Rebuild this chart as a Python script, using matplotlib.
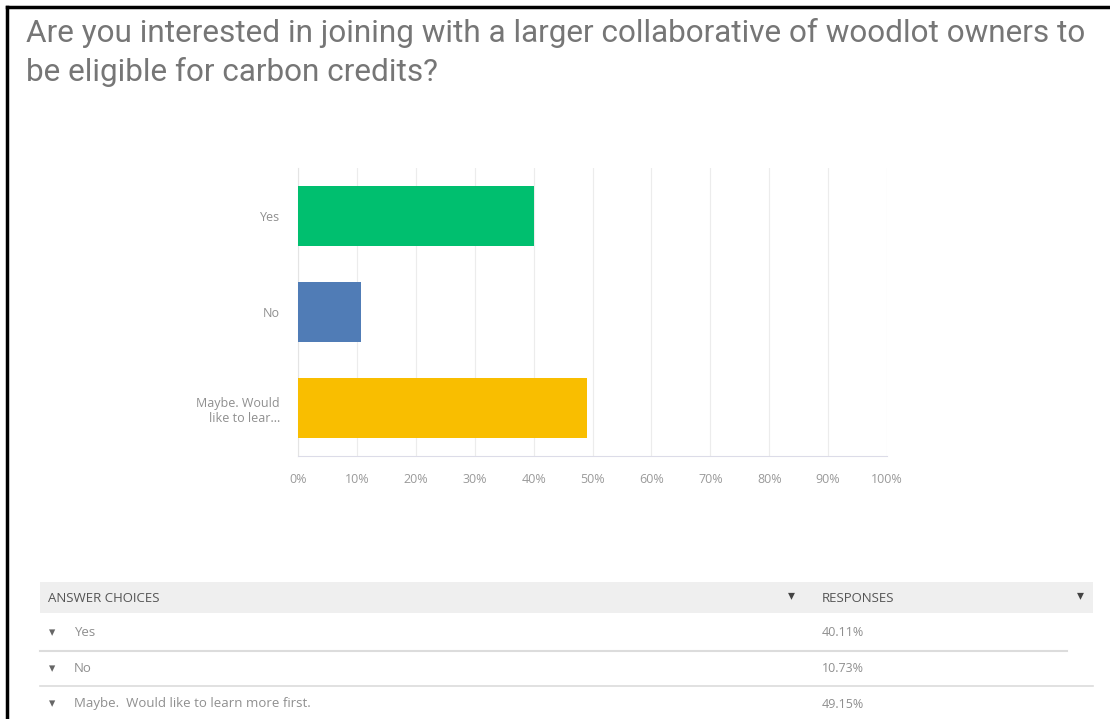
import matplotlib.pyplot as plt
from matplotlib.patches import Rectangle
from matplotlib.lines import Line2D

# survey answers and their share of responses (%)
choices = ["Yes", "No", "Maybe. Would\nlike to lear..."]
full_choices = ["Yes", "No", "Maybe.  Would like to learn more first."]
shares = [40.11, 10.73, 49.15]
bar_colors = ["#00bf6f", "#507cb6", "#f9be00"]
xticks = list(range(0, 101, 10))

W, H = 1110, 719
fig = plt.figure(figsize=(W / 100, H / 100), dpi=100)
fig.patch.set_facecolor("white")
plt.rcParams["font.family"] = ["Roboto", "DejaVu Sans"]
small = ["Open Sans", "DejaVu Sans"]


def fx(px):
    return px / W


def fy(py):
    return 1 - py / H


# frame lines on top and left edge
fig.add_artist(Line2D([fx(7), fx(W)], [fy(7), fy(7)], color="black", lw=2.5))
fig.add_artist(Line2D([fx(7), fx(7)], [fy(7), fy(H)], color="black", lw=2.5))

fig.text(fx(26), fy(42), "Are you interested in joining with a larger collaborative of woodlot owners to",
         fontsize=22.7, color="#767676", va="baseline")
fig.text(fx(26), fy(81), "be eligible for carbon credits?",
         fontsize=22.7, color="#767676", va="baseline")

# bar chart
ax = fig.add_axes([fx(298), fy(456), fx(887) - fx(298), fy(168) - fy(456)])
pos = list(range(len(choices)))
ax.barh(pos, shares, height=0.635, color=bar_colors, zorder=3)
ax.set_xlim(0, 100)
ax.set_ylim(2.5, -0.5)
ax.set_xticks(xticks)
ax.set_xticklabels([f"{t}%" for t in xticks], fontsize=9, color="#9a9a9a", family=small)
ax.set_yticks(pos)
ax.set_yticklabels(choices, fontsize=9, color="#8f8f8f", linespacing=1.25, family=small)
ax.tick_params(axis="x", length=0, pad=12)
ax.tick_params(axis="y", length=0, pad=13)
ax.grid(axis="x", color="#ececec", lw=0.8, zorder=0)
for s in ["top", "right"]:
    ax.spines[s].set_visible(False)
ax.spines["left"].set_color("#e4e4e4")
ax.spines["bottom"].set_color("#dcdce8")

# response table
fig.add_artist(Rectangle((fx(40), fy(613)), fx(1093) - fx(40), fy(582) - fy(613),
                         transform=fig.transFigure, facecolor="#efefef", edgecolor="none"))
fig.text(fx(48), fy(598), "ANSWER CHOICES", fontsize=9.5, color="#555555", va="center", family=small)
fig.text(fx(822), fy(598), "RESPONSES", fontsize=9.5, color="#555555", va="center", family=small)
fig.text(fx(791), fy(595), "\u25be", fontsize=10, color="#444444", va="center", ha="center")
fig.text(fx(1080), fy(595), "\u25be", fontsize=10, color="#444444", va="center", ha="center")

row_y = [633, 669, 704]
for name, val, y in zip(full_choices, shares, row_y):
    fig.text(fx(52), fy(y), "\u25be", fontsize=9, color="#666666", va="center", ha="center")
    fig.text(fx(74), fy(y), name, fontsize=9.5, color="#8f8f8f", va="center", family=small)
    fig.text(fx(822), fy(y), f"{val:.2f}%", fontsize=9, color="#8f8f8f", va="center", family=small)

fig.add_artist(Line2D([fx(40), fx(1067)], [fy(651), fy(651)], color="#dcdcdc", lw=1.5))
fig.add_artist(Line2D([fx(40), fx(1093)], [fy(686), fy(686)], color="#dcdcdc", lw=1.2))

fig.savefig("out.png", dpi=100)
